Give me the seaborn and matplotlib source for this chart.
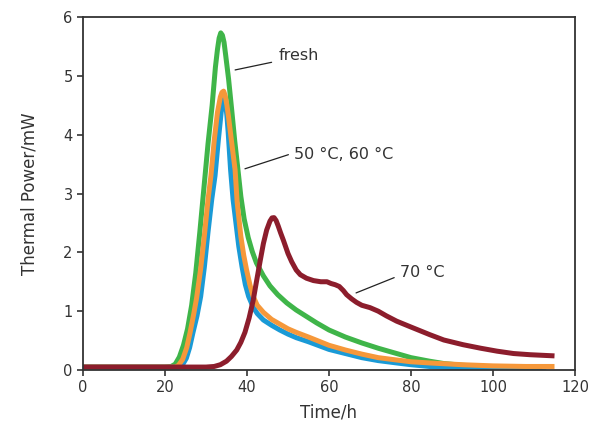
import pandas as pd
import matplotlib
matplotlib.use("Agg")
import matplotlib.pyplot as plt
import seaborn as sns

# fresh sample
fresh_t = [0, 10, 20, 21.5, 22.5, 23.5, 24.5, 25.5, 26.5, 27.5, 28.5, 29.5, 30.5,
           31.5, 32.3, 32.8, 33.2, 33.6, 34.0, 34.4, 34.8, 35.5, 36.3, 37.0, 37.8,
           38.5, 39.3, 40.3, 41.3, 42.3, 44, 45.6, 47.5, 49.7, 52, 54.5, 57, 60, 64,
           68, 72, 76, 80, 84.5, 88, 92.5, 98, 105, 112]
fresh_p = [0.05, 0.05, 0.05, 0.06, 0.10, 0.22, 0.42, 0.70, 1.10, 1.65, 2.35, 3.10, 3.85,
           4.50, 5.15, 5.45, 5.64, 5.73, 5.69, 5.57, 5.35, 4.95, 4.40, 3.90, 3.40,
           2.95, 2.57, 2.25, 2.01, 1.82, 1.60, 1.43, 1.28, 1.14, 1.02, 0.91, 0.80, 0.68, 0.56,
           0.46, 0.37, 0.29, 0.21, 0.15, 0.11, 0.08, 0.06, 0.05, 0.05]

# aged at 50 °C
t50 = [0, 10, 22.5, 23.3, 24.3, 25.3, 26.1, 27.0, 27.7, 28.7, 29.7, 30.5, 31.2,
       32.0, 32.8, 33.5, 33.9, 34.3, 34.7, 35.1, 35.5, 36.2, 37.1, 37.6, 38.5,
       39.2, 39.9, 40.7, 41.5, 42.5, 44, 46, 48, 50, 52, 55, 60, 64, 68, 72,
       76.5, 80, 84.5, 92.5, 100, 108, 115]
p50 = [0.05, 0.05, 0.05, 0.08, 0.18, 0.38, 0.63, 0.95, 1.22, 1.72, 2.35, 2.90, 3.30,
       3.90, 4.38, 4.64, 4.72, 4.74, 4.66, 4.50, 4.30, 3.90, 3.40, 2.85, 2.27,
       1.95, 1.70, 1.45, 1.25, 1.10, 0.98, 0.86, 0.78, 0.70, 0.64, 0.56, 0.42, 0.34, 0.27, 0.21,
       0.17, 0.14, 0.12, 0.09, 0.07, 0.06, 0.06]

# aged at 60 °C
t60 = [0, 10, 23.3, 24.2, 25.2, 26.0, 26.8, 27.8, 28.7, 29.6, 30.5, 31.4, 32.2,
       33.0, 33.7, 34.1, 34.45, 34.8, 35.1, 35.4, 36.0, 36.6, 37.3, 38.0, 38.8,
       39.6, 40.4, 41.5, 42.5, 44, 46, 48, 50, 52, 55, 60, 64, 68, 72, 76.5, 80,
       84.5, 92.5, 100, 106, 113]
p60 = [0.05, 0.05, 0.05, 0.08, 0.20, 0.38, 0.63, 0.92, 1.25, 1.75, 2.35, 2.90, 3.30,
       3.90, 4.38, 4.56, 4.61, 4.52, 4.32, 4.05, 3.40, 2.90, 2.50, 2.10, 1.75,
       1.45, 1.25, 1.07, 0.96, 0.85, 0.76, 0.68, 0.61, 0.55, 0.48, 0.35, 0.28, 0.21, 0.16, 0.12, 0.09,
       0.06, 0.03, 0.01, -0.01, -0.03]

# aged at 70 °C
t70 = [0, 20, 30, 32, 33.5, 35, 36.2, 37.5, 38.5, 39.5, 40.5, 41.5, 42.3, 43.2,
       44, 44.8, 45.6, 46.1, 46.6, 47.1, 47.6, 48.2, 48.9, 50, 50.9, 52, 53, 54.5,
       56.2, 58, 59.5, 60.5, 61.5, 62.5, 63.5, 64.3, 65.5, 66.7, 68, 70, 72, 74,
       76.5, 80, 84.6, 88, 92.7, 97, 101, 105, 109, 115]
p70 = [0.05, 0.05, 0.05, 0.06, 0.09, 0.15, 0.23, 0.34, 0.47, 0.64, 0.88, 1.18, 1.50, 1.85,
       2.15, 2.38, 2.53, 2.585, 2.59, 2.54, 2.45, 2.33, 2.20, 1.98, 1.84, 1.70, 1.62, 1.56,
       1.52, 1.50, 1.50, 1.47, 1.45, 1.42, 1.35, 1.28, 1.21, 1.15, 1.10, 1.06, 1.00, 0.92,
       0.83, 0.73, 0.60, 0.51, 0.43, 0.37, 0.32, 0.28, 0.26, 0.24]

colors = {"fresh": "#3fb549", "60": "#1a9ad6", "50": "#f6983a", "70": "#8c1d2c"}

sns.set_style("white")
plt.rcParams["font.family"] = ["DejaVu Sans"]
text_col = "#333333"

fig = plt.figure(figsize=(6, 4.29), dpi=100)
ax = fig.add_axes([83 / 600, 59 / 429, 492 / 600, 353 / 429])

series = [("fresh", fresh_t, fresh_p), ("60", t60, p60), ("50", t50, p50), ("70", t70, p70)]
for name, t, p in series:
    df = pd.DataFrame({"Time": t, "Power": p})
    sns.lineplot(data=df, x="Time", y="Power", ax=ax, color=colors[name],
                 linewidth=3.6, estimator=None, solid_capstyle="butt",
                 solid_joinstyle="round")

ax.set_xlim(0, 120)
ax.set_ylim(0, 6)
ax.set_xticks(range(0, 121, 20))
ax.set_yticks(range(0, 7))
ax.set_xlabel("Time/h", fontsize=12, color=text_col, labelpad=6)
ax.set_ylabel("Thermal Power/mW", fontsize=12, color=text_col, labelpad=18)
ax.tick_params(axis="both", which="both", direction="out", length=4, width=1.2,
               colors="#333333", labelsize=10.5, labelcolor=text_col,
               bottom=True, left=True, top=False, right=False)
for sp in ax.spines.values():
    sp.set_color("#333333")
    sp.set_linewidth(1.3)

# annotations with leader lines
ax.plot([37.1, 46.0], [5.10, 5.23], color="#222222", linewidth=0.9)
ax.text(47.8, 5.34, "fresh", fontsize=11.5, color=text_col, va="center", ha="left")
ax.plot([39.5, 50.1], [3.42, 3.66], color="#222222", linewidth=0.9)
ax.text(51.5, 3.66, "50 °C, 60 °C", fontsize=11.5, color=text_col, va="center", ha="left")
ax.plot([66.6, 75.9], [1.31, 1.57], color="#222222", linewidth=0.9)
ax.text(77.3, 1.65, "70 °C", fontsize=11.5, color=text_col, va="center", ha="left")

fig.savefig("out.png", dpi=100)
